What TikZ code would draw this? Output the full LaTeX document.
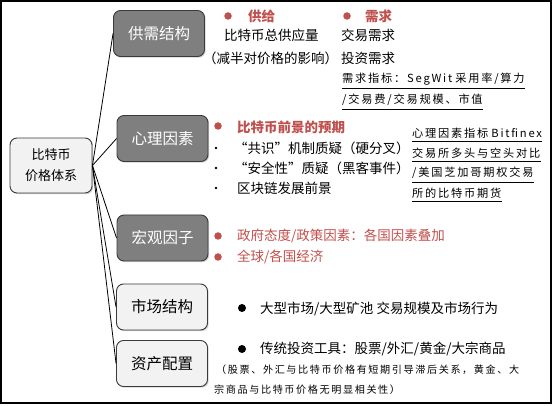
\documentclass[tikz,border=0pt]{standalone}
\usepackage{fontspec}
\setmainfont{Noto Sans CJK SC}
\newfontfamily\notefont[LetterSpace=16]{Noto Sans CJK SC}
\usetikzlibrary{shadows}
\definecolor{accred}{HTML}{C0504D}
\definecolor{boxdark}{HTML}{7F7F7F}
\definecolor{boxlight}{HTML}{F2F2F2}
\definecolor{edgegray}{HTML}{3A3A3A}

\begin{document}
\begin{tikzpicture}[
    x=1pt, y=-1pt,
    darkbox/.style={draw=edgegray, line width=0.9pt, rounded corners=7pt, minimum width=91pt, minimum height=46pt, fill=boxdark, text=white, font=\fontsize{15.5}{18}\selectfont, drop shadow={shadow xshift=1.2pt, shadow yshift=-1.2pt, opacity=0.35}},
    lightbox/.style={darkbox, fill=boxlight, text=black},
    rootbox/.style={lightbox, minimum width=82pt, minimum height=55pt, align=center, font=\fontsize{13}{21}\selectfont},
    txt/.style={anchor=west, inner sep=0pt, font=\fontsize{13.5}{16}\selectfont},
    redtxt/.style={txt, text=accred},
    redhead/.style={redtxt, font=\fontsize{13.5}{16}\selectfont\bfseries},
    notetxt/.style={anchor=west, inner xsep=0pt, inner ysep=3pt, font=\notefont\fontsize{11.2}{13}\selectfont},
    smallnote/.style={notetxt, font=\notefont\fontsize{10.1}{12}\selectfont},
    rdot/.style={circle, fill=accred, inner sep=0pt, minimum size=7.5pt},
    bdot/.style={circle, fill=black, inner sep=0pt, minimum size=8pt},
    sdot/.style={circle, fill=black, inner sep=0pt, minimum size=2.6pt},
    link/.style={line width=0.8pt},
    uline/.style={line width=0.8pt}
]
    \fill[white] (0,0) rectangle (560,406);
    \useasboundingbox (0,0) rectangle (560,406);
    \draw[line width=1.2pt] (1,1) rectangle (551,403);

    \node[rootbox] (btc) at (51,165.5) {比特币\\价格体系};
    \node[darkbox] (supply) at (159,33.5) {供需结构};
    \node[darkbox] (psych) at (162.5,138.5) {心理因素};
    \node[darkbox] (macro) at (162.5,238) {宏观因子};
    \node[lightbox] (market) at (162,307) {市场结构};
    \node[lightbox] (alloc) at (162,363.5) {资产配置};

    \draw[link] (btc.east) -- (supply.west);
    \draw[link] (btc.east) -- (psych.west);
    \draw[link] (btc.east) -- (macro.west);
    \draw[link] (btc.east) -- (market.west);
    \draw[link] (btc.east) -- (alloc.west);

    \node[rdot] (sdot) at (228,16) {};
    \node[redhead] (shead) at (248,16) {供给};
    \node[rdot] (ddot) at (347,16) {};
    \node[redhead] (dhead) at (365,16) {需求};
    \node[txt] (stotal) at (224,35) {比特币总供应量};
    \node[txt] (halving) at (203,58) {（减半对价格的影响）};
    \node[txt] (dtrade) at (341,35) {交易需求};
    \node[txt] (dinvest) at (341,58) {投资需求};
    \node[notetxt] (dind1) at (342,79) {需求指标：SegWit\hspace{3pt}采用率/算力};
    \node[notetxt] (dind2) at (342,100) {/交易费/交易规模、市值};
    \draw[uline] (dind1.south west) -- (dind1.south east);
    \draw[uline] (dind2.south west) -- (dind2.south east);

    \node[rdot] (pdot) at (218,126) {};
    \node[redhead] (phead) at (237,127) {比特币前景的预期};
    \node[sdot] (pdot1) at (216,148) {};
    \node[txt] (consensus) at (234,148) {“共识”机制质疑（硬分叉）};
    \node[sdot] (pdot2) at (216,168) {};
    \node[txt] (security) at (234,168) {“安全性”质疑（黑客事件）};
    \node[sdot] (pdot3) at (216,188) {};
    \node[txt] (chain) at (237,188) {区块链发展前景};
    \node[notetxt] (pind1) at (412,133) {心理因素指标\hspace{3pt}Bitfinex};
    \node[notetxt] (pind2) at (412,153) {交易所多头与空头对比};
    \node[notetxt] (pind3) at (412,173) {/美国芝加哥期权交易};
    \node[notetxt] (pind4) at (412,193) {所的比特币期货};
    \draw[uline] (pind1.south west) -- (pind1.south east);
    \draw[uline] (pind2.south west) -- (pind2.south east);
    \draw[uline] (pind3.south west) -- (pind3.south east);
    \draw[uline] (pind4.south west) -- (pind4.south east);

    \node[rdot] (mdot1) at (218,236) {};
    \node[redtxt] (policy) at (237,236) {政府态度/政策因素：各国因素叠加};
    \node[rdot] (mdot2) at (218,257) {};
    \node[redtxt] (economy) at (237,257) {全球/各国经济};

    \node[bdot] (kdot) at (242,308) {};
    \node[txt] (scale) at (260,309) {大型市场/大型矿池 交易规模及市场行为};

    \node[bdot] (adot) at (242,349) {};
    \node[txt] (tools) at (260,349) {传统投资工具：股票/外汇/黄金/大宗商品};
    \node[smallnote] (corr1) at (216,370) {（股票、外汇与比特币价格有短期引导滞后关系，黄金、大};
    \node[smallnote] (corr2) at (214,390) {宗商品与比特币价格无明显相关性）};
\end{tikzpicture}
\end{document}
